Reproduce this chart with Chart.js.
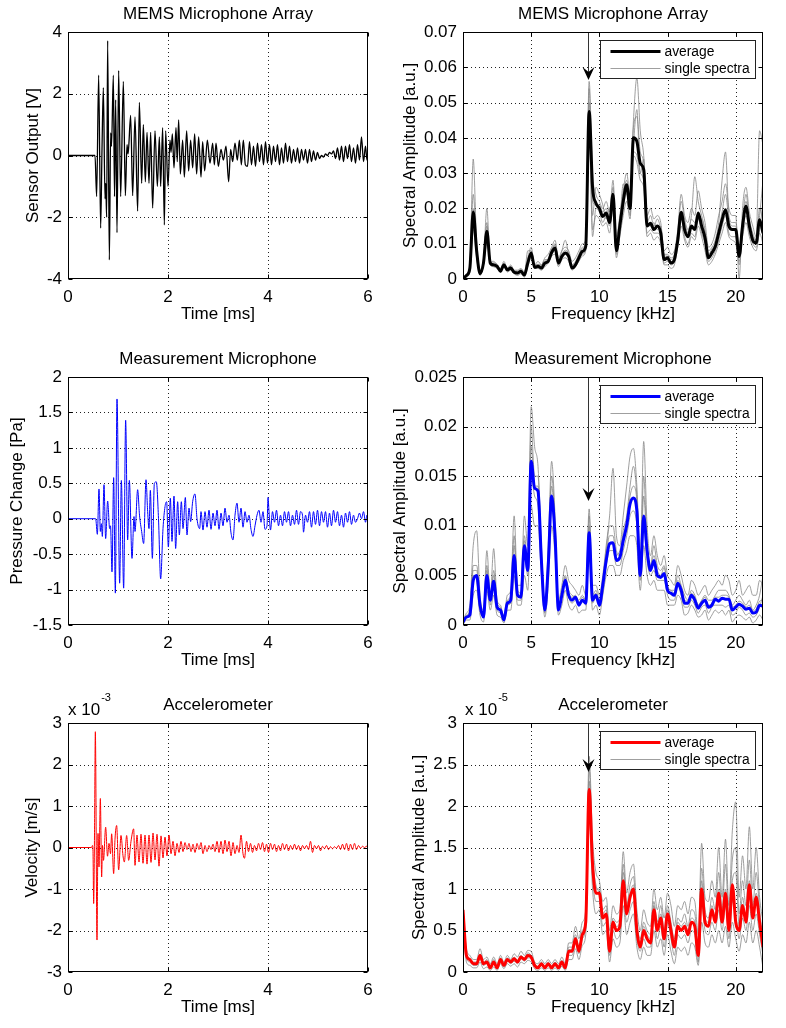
<!DOCTYPE html>
<html>
<head>
<meta charset="utf-8">
<script src="https://cdn.jsdelivr.net/npm/chart.js@4.4.1/dist/chart.umd.min.js"></script>
<style>
  body { margin: 0; background: #fff; }
  #fig { position: relative; width: 786px; height: 1028px; overflow: hidden; }
  #fig canvas { position: absolute; }
</style>
</head>
<body>
<div id="fig">
  <canvas id="tl" width="393" height="343" style="left:0;top:0"></canvas>
  <canvas id="tr" width="393" height="343" style="left:393px;top:0"></canvas>
  <canvas id="ml" width="393" height="343" style="left:0;top:343px"></canvas>
  <canvas id="mr" width="393" height="343" style="left:393px;top:343px"></canvas>
  <canvas id="bl" width="393" height="342" style="left:0;top:686px"></canvas>
  <canvas id="br" width="393" height="342" style="left:393px;top:686px"></canvas>
</div>
<script>
const FONT = '"Liberation Sans", Arial, Helvetica, sans-serif';
const GRAY = 'rgba(135,135,135,0.8)';

// tick positions
const timeTicks = [0, 2, 4, 6];
const freqTicks = [0, 5, 10, 15, 20];
const memsVoltTicks = [-4, -2, 0, 2, 4];
const pressureTicks = [-1.5, -1, -0.5, 0, 0.5, 1, 1.5, 2];
const velocityTicks = [-3, -2, -1, 0, 1, 2, 3];       // x 1e-3 m/s
const memsSpecTicks = [0, 10, 20, 30, 40, 50, 60, 70]; // x 1e-3
const measSpecTicks = [0, 5, 10, 15, 20, 25];         // x 1e-3
const accSpecTicks = [0, 0.5, 1, 1.5, 2, 2.5, 3];     // x 1e-5

// time signals: [time ms, value]
const memsSignal = [
  [0,0],[0.54,0],[0.573,-1.33],[0.613,2.6],[0.653,-2.35],[0.68,0.2],[0.707,2.2],[0.74,-1.4],[0.755,-0.9],[0.773,-2.0],
  [0.793,3.72],[0.827,-3.38],[0.853,0.73],[0.87,0.3],[0.907,2.6],[0.93,-1.33],[0.953,1.8],[0.98,-2.5],[1.013,2.75],[1.053,-1.33],
  [1.107,2.4],[1.147,-1.3],[1.18,0.35],[1.2,0.05],[1.215,0.3],[1.253,1.3],[1.293,-1.3],[1.34,1.25],[1.393,-1.8],[1.427,1.72],
  [1.473,-0.9],[1.507,1.0],[1.547,-0.85],[1.58,0.75],[1.62,-0.9],[1.653,0.75],[1.693,-1.7],[1.74,0.8],[1.787,-1.0],[1.827,0.6],
  [1.853,-1.0],[1.893,0.9],[1.927,-2.25],[1.953,0.8],[2.0,-1.0],[2.04,0.5],[2.06,0.1],[2.087,0.7],[2.12,-0.4],[2.16,0.9],
  [2.185,-0.2],[2.213,1.15],[2.247,-0.6],[2.293,0.5],[2.327,-0.7],[2.373,0.8],[2.413,-0.5],[2.453,0.5],[2.493,-0.4],[2.533,0.7],
  [2.573,-0.6],[2.613,0.6],[2.66,-0.7],[2.693,0.45],[2.733,-0.5],[2.787,0.5],[2.84,-0.25],[2.893,0.4],[2.927,-0.3],[2.96,0.4],
  [3.007,-0.35],[3.06,0.2],[3.107,-0.15],[3.16,0.3],[3.213,-0.85],[3.253,0.2],[3.293,-0.2],[3.34,0.4],[3.387,-0.15],[3.427,0.5],
  [3.467,-0.3],[3.507,0.5],[3.547,-0.3],[3.59,-0.35],[3.63,0.45],[3.67,-0.3],[3.71,0.3],[3.75,-0.35],[3.79,0.4],[3.83,-0.2],
  [3.87,0.35],[3.91,-0.3],[3.95,0.45],[3.99,-0.25],[4.03,0.35],[4.07,-0.3],[4.11,0.3],[4.15,-0.2],[4.19,0.35],[4.23,-0.3],
  [4.27,0.25],[4.31,-0.25],[4.35,0.4],[4.39,-0.2],[4.43,0.3],[4.47,-0.25],[4.51,0.2],[4.55,-0.2],[4.59,0.25],[4.63,-0.25],
  [4.67,0.2],[4.71,-0.15],[4.75,0.2],[4.79,-0.25],[4.83,0.2],[4.87,-0.2],[4.91,0.15],[4.95,-0.15],[4.99,0.1],[5.03,-0.1],
  [5.07,0.0],[5.11,-0.05],[5.15,0.05],[5.19,0.0],[5.23,0.1],[5.27,0.05],[5.31,0.15],[5.35,-0.1],[5.39,0.25],[5.43,-0.15],
  [5.47,0.3],[5.51,-0.2],[5.55,0.3],[5.59,-0.1],[5.63,0.35],[5.67,-0.2],[5.71,0.25],[5.75,-0.25],[5.79,0.35],[5.83,-0.15],
  [5.87,0.6],[5.91,-0.2],[5.95,0.3],[5.98,-0.15],[6.0,0.05]
];

const measSignal = [
  [0,0],[0.553,0],[0.587,-0.22],[0.62,0.42],[0.647,-0.18],[0.667,-0.07],[0.687,-0.25],[0.72,0.48],[0.753,-0.28],[0.793,0.25],
  [0.833,-0.14],[0.85,-0.1],[0.88,-0.75],[0.913,0.58],[0.947,-1.05],[0.98,1.69],[1.033,-0.91],[1.067,0.54],[1.113,-0.98],[1.153,1.39],
  [1.193,-0.3],[1.227,0.54],[1.28,-0.56],[1.32,0.03],[1.34,-0.18],[1.393,0.41],[1.43,0.05],[1.473,-0.18],[1.513,-0.35],[1.56,0.55],
  [1.593,0.1],[1.62,-0.14],[1.647,0.4],[1.687,-0.56],[1.727,0.5],[1.767,0.52],[1.81,0.0],[1.853,-0.85],[1.9,-0.14],[1.94,0.17],
  [1.973,0.24],[2.007,-0.4],[2.047,0.29],[2.08,-0.32],[2.12,0.32],[2.153,-0.42],[2.193,0.24],[2.227,-0.23],[2.267,0.24],[2.3,-0.14],
  [2.347,0.3],[2.38,-0.23],[2.42,0.15],[2.453,-0.04],[2.493,0.24],[2.54,0.35],[2.58,0.0],[2.633,-0.14],[2.66,0.1],[2.7,-0.16],
  [2.74,0.1],[2.78,-0.12],[2.82,0.12],[2.86,-0.15],[2.9,0.08],[2.94,-0.1],[2.98,0.12],[3.02,-0.15],[3.06,0.08],[3.1,-0.1],
  [3.14,0.15],[3.18,-0.05],[3.22,0.05],[3.26,-0.2],[3.3,-0.3],[3.34,0.05],[3.38,0.22],[3.42,-0.05],[3.46,0.15],[3.5,-0.12],
  [3.54,0.1],[3.58,-0.05],[3.62,0.05],[3.66,-0.15],[3.7,-0.25],[3.74,-0.1],[3.78,0.05],[3.82,0.12],[3.86,-0.05],[3.9,0.1],
  [3.94,-0.15],[3.98,-0.1],[4.0,0.3],[4.02,0.1],[4.05,-0.16],[4.09,0.1],[4.13,-0.05],[4.17,0.12],[4.21,-0.1],[4.25,0.05],
  [4.29,-0.1],[4.33,0.1],[4.37,-0.05],[4.41,0.1],[4.45,-0.1],[4.49,0.05],[4.53,-0.08],[4.57,0.12],[4.61,-0.08],[4.65,0.1],
  [4.69,0.05],[4.71,-0.19],[4.75,0.05],[4.79,-0.05],[4.83,0.1],[4.87,-0.12],[4.91,0.1],[4.95,-0.08],[4.99,0.12],[5.03,-0.1],
  [5.07,0.1],[5.11,-0.05],[5.15,0.1],[5.19,-0.12],[5.23,0.08],[5.27,-0.1],[5.31,0.12],[5.35,-0.05],[5.39,0.1],[5.43,-0.1],
  [5.47,0.05],[5.51,-0.12],[5.55,0.08],[5.59,-0.05],[5.63,0.1],[5.67,-0.08],[5.71,0.05],[5.75,-0.05],[5.79,0.0],[5.83,0.08],
  [5.87,0.0],[5.91,0.1],[5.95,-0.05],[5.98,0.05],[6.0,-0.12]
];

// velocity in units of 1e-3 m/s
const accelSignal = [
  [0,0],[0.47,0],[0.49,0.05],[0.5,-0.1],[0.513,-1.35],[0.53,0.3],[0.547,2.79],[0.58,-2.23],[0.6,0.34],[0.62,-0.47],
  [0.647,1.18],[0.673,-0.71],[0.69,0.05],[0.71,-0.31],[0.753,0.49],[0.79,-0.21],[0.82,0.1],[0.85,-0.15],[0.873,0.33],[0.913,-0.63],
  [0.94,0.2],[0.973,0.53],[1.013,-0.54],[1.06,0.29],[1.1,-0.2],[1.127,-0.35],[1.173,0.29],[1.213,-0.31],[1.26,0.15],[1.313,0.45],
  [1.34,-0.43],[1.38,0.3],[1.42,-0.35],[1.46,0.32],[1.5,-0.38],[1.54,0.3],[1.58,-0.4],[1.62,0.3],[1.66,-0.36],[1.7,0.35],
  [1.74,-0.3],[1.78,0.32],[1.82,-0.45],[1.86,0.28],[1.9,-0.25],[1.94,0.25],[1.98,-0.2],[2.02,0.3],[2.06,-0.15],[2.1,0.15],
  [2.14,-0.2],[2.18,0.1],[2.22,-0.12],[2.26,0.15],[2.3,-0.1],[2.34,0.12],[2.38,-0.05],[2.42,0.1],[2.46,-0.1],[2.5,0.08],
  [2.54,-0.12],[2.58,0.1],[2.62,-0.05],[2.66,0.12],[2.7,-0.15],[2.74,0.05],[2.78,-0.1],[2.82,0.05],[2.86,-0.05],[2.9,0.08],
  [2.94,-0.1],[2.98,0.15],[3.02,-0.12],[3.06,0.15],[3.1,-0.15],[3.14,0.18],[3.18,-0.1],[3.22,0.15],[3.26,-0.2],[3.3,0.12],
  [3.34,-0.15],[3.38,0.05],[3.42,-0.12],[3.46,0.3],[3.5,-0.15],[3.53,-0.26],[3.57,0.15],[3.61,-0.1],[3.65,0.1],[3.69,-0.12],
  [3.73,0.05],[3.77,-0.08],[3.81,0.1],[3.85,-0.05],[3.89,0.12],[3.93,-0.1],[3.97,0.08],[4.01,-0.12],[4.05,0.1],[4.09,-0.05],
  [4.13,0.08],[4.17,-0.1],[4.21,0.05],[4.25,-0.08],[4.29,0.1],[4.33,-0.05],[4.37,0.08],[4.41,-0.08],[4.45,0.05],[4.49,-0.05],
  [4.53,0.08],[4.57,-0.05],[4.61,0.05],[4.65,-0.08],[4.69,0.05],[4.73,-0.03],[4.77,0.05],[4.81,-0.05],[4.85,0.15],[4.89,-0.12],
  [4.93,0.05],[4.97,-0.03],[5.01,0.05],[5.05,-0.08],[5.09,0.03],[5.13,-0.03],[5.17,0.05],[5.21,-0.05],[5.25,0.02],[5.29,-0.03],
  [5.33,0.02],[5.37,-0.02],[5.41,0.05],[5.45,-0.05],[5.49,0.08],[5.53,-0.05],[5.57,0.1],[5.61,-0.08],[5.65,0.08],[5.69,-0.05],
  [5.73,0.1],[5.77,-0.05],[5.81,0.05],[5.85,-0.02],[5.89,0.03],[5.93,0.0],[5.97,0.03],[6.0,-0.02]
];

// spectra sampled every 0.25 kHz from 0 to 22 kHz (89 bins)
const FREQ_STEP = 0.25;

// MEMS array spectra, units of 1e-3
const memsAvg = [
  0,1,3,19, 8,1.5,4.5,13.5, 4.5,4,3.6,2.2, 4,2.6,3.1,1.9, 1.7,2.2,1.1,4.5,
  7.4,3.3,3.6,3.1, 4.5,5,7.5,8.8, 4.5,6.4,7.4,6.4, 3.1,4,6,7.8, 9.2,47.5,26,21.5,
  20,17.7,18.7,16, 24,8,15,22, 26.7,20,40,39, 32.8,31,15,15.8, 14,15,13,5.5,
  6,4.5,5.5,11, 18.9,14,12,15, 14,18.7,15,11.6, 6,7.4,9.2,13, 16.8,19.6,15,14,
  14,6.4,15,20.6, 15,11,10.2,16.8, 13
];
const memsSingle1 = [
  0,1.5,4,34, 10,2,5,20, 5,5,4,3, 5,3,4,2.5, 2.5,3,2,6,
  9,4,5,4, 6,7,9,11, 6,8,9,8, 5,6,8,10, 11,56,30,24,
  22,20,22,19, 28,12,18,25, 30,24,45,57, 42,35,18,20, 17,18,16,8,
  9,7,8,14, 24,18,16,20, 18,25,20,16, 9,10,13,18, 22,27,20,18,
  18,0,20,26, 19,15,12,42, 38
];
const memsSingle2 = [
  0,0.5,2,14, 6,1,4,10, 4,3.5,3,2, 3.5,2,2.5,1.5, 1,1.5,0.5,3.5,
  6,3,3,2.5, 3.5,4.5,6.5,7, 3.5,5.5,6,5, 2.5,3.5,5,6.5, 8,42,14,18,
  17,15,16,13, 20,6,12,18, 22,17,35,33, 28,26,12,13, 11,12,10,4,
  4,3,4,9, 15,11,9,12, 11,15,12,8, 4,5,7,10, 13,16,12,11,
  10,5,12,16, 12,9,8,13, 10
];
const memsSingle3 = [
  0,1,3.5,24, 9,2,5,16, 4,4.5,4,2.5, 4.5,3,3.5,2, 2,2.5,1.5,8,
  8,4,4,4, 5.5,5.5,8,10, 5,8,11,7, 4,5,7,9, 10,54,22,21,
  21,19,20,17, 26,10,17,24, 28,22,43,46, 36,33,16,18, 15,17,14,7,
  7,6,7,13, 22,17,14,18, 29,22,18,14, 8,9,11,16, 28,36,18,16,
  16,9,17,24, 17,13,11,20, 16
];
const memsSingle4 = [
  0,0.8,2.5,16, 7,1.5,4,12, 4,3.5,3.5,2, 4,2.2,2.8,1.6, 1.4,2,1,4,
  7,3,3.2,2.8, 4,4.8,7,8, 4,6,7,6, 3,3.8,5.5,7, 8.5,45,12,20,
  19,16,18,15, 22,7,14,20, 25,18,36,35, 30,28,13,14, 13,13,12,4.5,
  5,4,5,10, 17,12,10,13, 12,17,13,10, 5,6,8,11, 15,18,13,12,
  12,4,13,18, 13,10,9,14, 22
];
const memsSingle5 = [
  0,1.2,3.5,20, 9,1.8,5.5,15, 5,4.5,4.2,2.8, 4.5,3.2,3.6,2.2, 2.2,2.8,1.4,5,
  7.8,3.8,4.2,3.6, 5,5.8,8.5,9.5, 5.2,7,8.2,7.2, 3.8,4.6,6.8,8.5, 10,50,18,26,
  24,21,17,20, 21,10,16,27, 24,23,38,48, 30,34,17,15, 16,14,15,6.5,
  6.5,5.5,6.5,12, 17,16,13,17, 16,17,17,13, 7,8.5,10,14, 19,24,17,15,
  15,8,16,22, 16,12,11,18, 28
];

// measurement microphone spectra, units of 1e-3
const measAvg = [
  0.3,0.8,1,4.5, 5,2,0.8,5, 2.5,4.4,1.8,1.5, 0.5,2.2,2.5,7, 3,2.8,8,5.5,
  16.5,13.8,13.5,6.5, 1.5,6,13,9, 1.5,3,4.5,3, 2.5,2.8,2,2.5, 2.2,9.3,2.5,3,
  2,4,6.5,8.2, 8.3,6.5,6.8,8.5, 10,12.2,12.8,11.5, 5,11,7.5,5.5, 6.5,5,4.8,5.2,
  3.5,3.2,3,4.2, 3.5,2.2,2.2,3, 2.5,1.7,2.2,2.5, 1.8,2,2.6,2.4, 2.7,2.6,2.6,1.5,
  1.8,2.1,1.9,1.6, 1.7,1.2,1.3,2, 1.9
];
const measSingle1 = [
  0.5,1.2,2,8, 9.5,3,1.5,7.5, 3,7.7,2.5,2, 0.8,3,3.5,11, 4,4,11,8,
  22,18,16,8, 2,8,16.5,11, 2.5,4,6,4.5, 4,3.5,3,4, 3,11.7,4,4,
  3,5,8,11, 15.8,9,8,11, 14,17,17.8,14, 7,18.5,10,7, 9,7,6,7,
  5,4.5,4,6, 5,3.5,3,4.5, 4,3,3.5,4, 3,3.5,4,4.5, 4,5,4.5,3,
  3.5,4.5,3,3.5, 4,3,3,4.5, 4
];
const measSingle2 = [
  0,0.5,0.5,3, 3.5,1,0.3,3.5, 1.5,3,1,0.8, 0.2,1.5,1.5,5, 2,2,5,3.5,
  12,10,10,5, 0.8,4,10,7, 1,2,3.5,2, 1.5,2,1.2,1.5, 1.5,7.5,1.5,2,
  1,3,5,6, 6,5,5,6.5, 7.5,9,9,8, 3.5,8,5,4, 4.5,3.5,3.5,3.5,
  2,2,2,3, 2.5,1,1.2,2, 1.5,0.8,1,1.5, 0.5,1,1.5,1.2, 1.5,1,1.5,0.3,
  0.8,1,0.8,0.5, 0.8,0.2,0.5,1, 0.5
];
const measSingle3 = [
  0.3,1,1.5,6, 6,2.5,1,6, 2,5.5,2.2,1.8, 0.6,2.5,3,9, 3.5,3.2,9,6.5,
  20,15,15,7, 1.5,7,15,10, 2,3.5,5,3.5, 3,2.8,2.5,3, 2.5,11,3,3.5,
  2.5,4.5,7.5,10, 10,7.5,7,9.5, 11,14,16,13, 6,15,8,6, 8,6,5.5,6,
  4,3.5,3.5,5, 4,3,2.5,3.5, 3,2,2.5,3, 2.5,2.5,3,3.5, 3.5,3.5,3,2,
  2.5,3,2.5,2, 2.5,1.5,2,3, 5
];
const measSingle4 = [
  0.2,0.8,1.2,5, 4.5,1.5,0.8,4.5, 2.5,4,1.5,1.2, 0.4,2,2.2,6.5, 2.5,2.5,7,5,
  15,13,12,6, 1.2,5.5,12,8.5, 1.5,3,4.5,2.8, 2.2,2.5,2,2.5, 2,8.5,2.2,2.8,
  1.8,3.8,6,7.5, 7.5,6,6,7.5, 9,11,11.5,10, 4.5,10,6.5,5, 5.5,4.5,4.5,4.5,
  3,2.5,2.5,4, 3,1.8,1.8,2.5, 2,1.2,1.8,2, 1.2,1.8,2,2, 2,1.8,2,1,
  1.2,1.8,1.5,1, 1.2,0.8,1,1.8, 3
];
const measSingle5 = [
  0.4,0.9,1.3,5.5, 5.5,2.2,1,5.5, 2.8,5,2,1.6, 0.5,2.4,2.8,8, 3.2,3,8.5,6,
  18,14,14,7, 1.6,6.5,14,9.5, 1.8,3.2,4.8,3.2, 2.8,3,2.2,2.8, 2.4,10,2.8,3.2,
  2.2,4.2,7,9, 9,7,7.5,9, 10.5,13,14,12.5, 5.5,13,8,6, 7,5.5,5,5.8,
  3.8,3.5,3.2,4.5, 3.8,2.5,2.4,3.2, 2.8,2,2.4,2.8, 2,2.2,2.8,2.8, 3,3,2.8,1.8,
  2,2.4,2.2,1.8, 2,1.4,1.6,2.4, 2.5
];

// accelerometer spectra, units of 1e-5
const accAvg = [
  0.75,0.2,0.15,0.1, 0.1,0.2,0.1,0.12, 0.05,0.12,0.05,0.15, 0.08,0.15,0.12,0.16, 0.12,0.18,0.15,0.2,
  0.18,0.08,0.05,0.1, 0.05,0.1,0.05,0.1, 0.05,0.12,0.05,0.25, 0.25,0.4,0.25,0.45, 0.6,2.2,1.3,0.95,
  0.95,0.65,0.7,0.25, 0.6,0.5,0.55,1.1, 0.7,0.9,1.0,0.5, 0.3,0.5,0.4,0.35, 0.75,0.5,0.65,0.4,
  0.7,0.5,0.3,0.55, 0.5,0.55,0.45,0.6, 0.55,0.2,1.0,0.6, 0.55,0.75,0.6,0.95, 0.6,0.95,0.5,1.05,
  0.6,0.5,0.8,0.6, 1.05,0.65,0.9,0.6, 0.3
];
const accSingle1 = [
  0.8,0.28,0.2,0.15, 0.15,0.28,0.15,0.18, 0.1,0.18,0.1,0.2, 0.12,0.2,0.15,0.22, 0.18,0.25,0.2,0.26,
  0.25,0.12,0.1,0.15, 0.1,0.15,0.1,0.15, 0.1,0.18,0.1,0.35, 0.35,0.55,0.4,0.6, 0.75,2.6,1.6,1.2,
  1.1,0.85,0.9,0.5, 0.8,0.7,0.75,1.45, 0.95,1.2,1.3,0.75, 0.5,0.75,0.6,0.55, 1.0,0.75,0.9,0.65,
  0.95,0.8,0.55,0.8, 0.75,0.85,0.7,0.9, 0.85,0.45,1.55,0.9, 0.85,1.1,0.9,1.5, 0.9,1.6,0.8,1.7,
  2.05,0.9,1.4,1.0, 1.75,1.0,1.5,0.9, 0.6
];
const accSingle2 = [
  0.7,0.12,0.08,0.05, 0.05,0.12,0.04,0.06, 0.02,0.06,0.02,0.1, 0.04,0.1,0.07,0.1, 0.06,0.12,0.1,0.14,
  0.12,0.04,0.02,0.05, 0.02,0.05,0.02,0.05, 0.02,0.07,0.02,0.15, 0.15,0.28,0.15,0.32, 0.45,1.9,1.0,0.7,
  0.75,0.45,0.5,0.12, 0.4,0.3,0.35,0.8, 0.45,0.6,0.7,0.3, 0.15,0.3,0.2,0.2, 0.5,0.3,0.4,0.2,
  0.45,0.25,0.1,0.3, 0.25,0.3,0.2,0.35, 0.3,0.08,0.6,0.35, 0.3,0.45,0.35,0.5, 0.35,0.55,0.3,0.6,
  0.4,0.25,0.45,0.35, 0.6,0.35,0.5,0.3, 0.05
];
const accSingle3 = [
  0.78,0.22,0.15,0.12, 0.12,0.22,0.12,0.15, 0.08,0.15,0.07,0.17, 0.1,0.17,0.13,0.18, 0.14,0.2,0.17,0.23,
  0.2,0.1,0.07,0.12, 0.07,0.12,0.07,0.12, 0.07,0.14,0.07,0.3, 0.3,0.45,0.3,0.5, 0.65,2.45,1.4,1.05,
  0.95,0.75,0.8,0.35, 0.65,0.6,0.65,1.3, 0.8,1.05,1.15,0.6, 0.4,0.6,0.5,0.45, 0.85,0.6,0.8,0.5,
  0.8,0.6,0.4,0.65, 0.6,0.7,0.55,0.75, 0.7,0.3,1.25,0.75, 0.65,0.9,0.75,1.2, 0.75,1.3,0.65,1.35,
  1.5,0.7,1.1,0.8, 1.35,0.8,1.2,0.75, 0.4
];
const accSingle4 = [
  0.72,0.16,0.12,0.08, 0.08,0.16,0.08,0.1, 0.04,0.1,0.04,0.13, 0.06,0.13,0.1,0.13, 0.1,0.16,0.13,0.17,
  0.16,0.07,0.04,0.08, 0.04,0.08,0.04,0.08, 0.04,0.1,0.04,0.2, 0.2,0.35,0.22,0.4, 0.55,2.0,1.15,0.85,
  0.85,0.55,0.6,0.2, 0.5,0.4,0.45,0.95, 0.6,0.75,0.85,0.4, 0.25,0.4,0.3,0.3, 0.65,0.4,0.55,0.3,
  0.6,0.4,0.2,0.45, 0.4,0.45,0.35,0.5, 0.45,0.12,0.85,0.5, 0.45,0.6,0.5,0.75, 0.5,0.8,0.4,0.85,
  0.7,0.4,0.65,0.5, 0.8,0.5,0.7,0.45, 0.2
];
const accSingle5 = [
  0.76,0.2,0.16,0.11, 0.1,0.21,0.11,0.13, 0.06,0.13,0.06,0.16, 0.09,0.16,0.12,0.17, 0.13,0.19,0.16,0.21,
  0.19,0.09,0.06,0.11, 0.06,0.11,0.06,0.11, 0.06,0.13,0.06,0.27, 0.27,0.42,0.27,0.48, 0.62,2.3,1.35,1.0,
  1.0,0.7,0.75,0.3, 0.62,0.55,0.6,1.2, 0.75,0.95,1.05,0.55, 0.35,0.55,0.45,0.4, 0.8,0.55,0.7,0.45,
  0.75,0.55,0.35,0.6, 0.55,0.6,0.5,0.65, 0.6,0.25,1.1,0.65, 0.6,0.8,0.65,1.0, 0.65,1.0,0.55,1.1,
  1.2,0.55,0.9,0.65, 1.1,0.7,0.95,0.65, 0.35
];

// arrow marking the resonance: [frequency kHz, tip value]
const memsArrow = [9.2, 56.4];
const measArrow = [9.2, 12.5];
const accArrow = [9.2, 2.41];

function timeSet(pairs, color, width) {
  return [{ data: pairs.map(([t, v]) => ({ x: t, y: v })), borderColor: color, borderWidth: width }];
}

function spectrumSets(avg, singles, color) {
  const pts = arr => arr.map((v, i) => ({ x: i * FREQ_STEP, y: v }));
  // first dataset is drawn on top
  return [{ data: pts(avg), borderColor: color, borderWidth: 3 }]
    .concat(singles.map(s => ({ data: pts(s), borderColor: GRAY, borderWidth: 1 })));
}

const plain = v => String(+v.toFixed(4));
const milli = v => String(+(v / 1000).toFixed(4));

function decor(p) {
  return {
    id: 'decor',
    beforeDatasetsDraw(chart) {
      const { ctx, chartArea: a, scales: { x, y } } = chart;
      ctx.save();
      ctx.strokeStyle = '#222';
      ctx.lineWidth = 1;
      ctx.setLineDash([1, 3]);
      ctx.beginPath();
      for (const t of x.ticks) {
        const px = Math.round(x.getPixelForValue(t.value)) + 0.5;
        if (px - a.left < 2 || a.right - px < 2) continue;
        ctx.moveTo(px, a.top); ctx.lineTo(px, a.bottom);
      }
      for (const t of y.ticks) {
        const py = Math.round(y.getPixelForValue(t.value)) + 0.5;
        if (py - a.top < 2 || a.bottom - py < 2) continue;
        ctx.moveTo(a.left, py); ctx.lineTo(a.right, py);
      }
      ctx.stroke();
      ctx.restore();
    },
    afterDatasetsDraw(chart) {
      const { ctx, chartArea: a, scales: { x, y } } = chart;
      ctx.save();

      // resonance arrow
      if (p.arrow) {
        const ax = Math.round(x.getPixelForValue(p.arrow[0])) + 0.5;
        const tip = y.getPixelForValue(p.arrow[1]);
        ctx.strokeStyle = '#333';
        ctx.lineWidth = 1;
        ctx.beginPath();
        ctx.moveTo(ax, a.top);
        ctx.lineTo(ax, tip - 8);
        ctx.stroke();
        ctx.fillStyle = '#000';
        ctx.beginPath();
        ctx.moveTo(ax, tip);
        ctx.lineTo(ax - 6, tip - 13);
        ctx.lineTo(ax, tip - 8);
        ctx.lineTo(ax + 6, tip - 13);
        ctx.closePath();
        ctx.fill();
      }

      // axes box with inward ticks
      const L = Math.round(a.left) + 0.5, R = Math.round(a.right) - 0.5;
      const T = Math.round(a.top) + 0.5, B = Math.round(a.bottom) - 0.5;
      ctx.strokeStyle = '#000';
      ctx.lineWidth = 1;
      ctx.strokeRect(L, T, R - L, B - T);
      ctx.beginPath();
      for (const t of x.ticks) {
        const px = Math.round(x.getPixelForValue(t.value)) + 0.5;
        ctx.moveTo(px, B); ctx.lineTo(px, B - 4);
        ctx.moveTo(px, T); ctx.lineTo(px, T + 4);
      }
      for (const t of y.ticks) {
        const py = Math.round(y.getPixelForValue(t.value)) + 0.5;
        ctx.moveTo(L, py); ctx.lineTo(L + 4, py);
        ctx.moveTo(R, py); ctx.lineTo(R - 4, py);
      }
      ctx.stroke();

      // legend
      if (p.legendColor) {
        const bw = 155, bh = 38;
        const bx = Math.round(a.right - 8 - bw) + 0.5, by = Math.round(a.top + 8) + 0.5;
        ctx.fillStyle = '#fff';
        ctx.fillRect(bx, by, bw, bh);
        ctx.strokeStyle = '#222';
        ctx.strokeRect(bx, by, bw, bh);
        const rows = [['average', p.legendColor, 3], ['single spectra', GRAY, 1]];
        ctx.font = '13.8px ' + FONT;
        ctx.textAlign = 'left';
        ctx.textBaseline = 'middle';
        rows.forEach(([label, color, w], i) => {
          const ry = by + 11 + i * 17;
          ctx.strokeStyle = color;
          ctx.lineWidth = w;
          ctx.beginPath();
          ctx.moveTo(bx + 10, ry); ctx.lineTo(bx + 60, ry);
          ctx.stroke();
          ctx.fillStyle = '#000';
          ctx.fillText(label, bx + 64, ry + 1);
        });
      }

      // texts
      ctx.fillStyle = '#000';
      ctx.font = '17px ' + FONT;
      ctx.textAlign = 'center';
      ctx.textBaseline = 'middle';
      const cx = (a.left + a.right) / 2, cy = (a.top + a.bottom) / 2;
      ctx.fillText(p.title, cx, a.top - 18);
      ctx.fillText(p.xlabel, cx, a.bottom + 35);
      ctx.save();
      ctx.translate(p.ylabelX, cy);
      ctx.rotate(-Math.PI / 2);
      ctx.fillText(p.ylabel, 0, 0);
      ctx.restore();

      if (p.exponent) {
        ctx.textAlign = 'left';
        ctx.textBaseline = 'alphabetic';
        const ex = a.left + p.expDx;
        ctx.fillText('x 10', ex, a.top - 8);
        const w = ctx.measureText('x 10').width;
        ctx.font = '11px ' + FONT;
        ctx.fillText(p.exponent, ex + w + 1, a.top - 22);
      }
      ctx.restore();
    }
  };
}

function panel(p) {
  const tickFont = { family: FONT, size: 17 };
  return new Chart(document.getElementById(p.id), {
    type: 'line',
    data: { datasets: p.datasets },
    options: {
      responsive: false,
      animation: false,
      devicePixelRatio: 1,
      layout: { padding: { top: p.area.top, right: p.area.right, left: 0, bottom: 0 } },
      elements: { point: { radius: 0 }, line: { cubicInterpolationMode: 'monotone' } },
      plugins: { legend: { display: false }, tooltip: { enabled: false } },
      scales: {
        x: {
          type: 'linear', min: p.xRange[0], max: p.xRange[1],
          afterFit: s => { s.height = p.area.xh; },
          afterBuildTicks: s => { s.ticks = p.xTicks.map(v => ({ value: v })); },
          grid: { display: false, drawTicks: false }, border: { display: false },
          ticks: { font: tickFont, color: '#000', padding: 8, maxRotation: 0, autoSkip: false, callback: plain }
        },
        y: {
          type: 'linear', min: p.yRange[0], max: p.yRange[1],
          afterFit: s => { s.width = p.area.left; },
          afterBuildTicks: s => { s.ticks = p.yTicks.map(v => ({ value: v })); },
          grid: { display: false, drawTicks: false }, border: { display: false },
          ticks: { font: tickFont, color: '#000', padding: 6, autoSkip: false, callback: p.yFormat || plain }
        }
      }
    },
    plugins: [decor(p)]
  });
}

const leftArea = top => ({ left: 68, right: 25, top: top });
const rightArea = top => ({ left: 70, right: 23, top: top });

panel({
  id: 'tl', area: { ...leftArea(32), xh: 64 },
  title: 'MEMS Microphone Array', xlabel: 'Time [ms]', ylabel: 'Sensor Output [V]', ylabelX: 33,
  xRange: [0, 6], xTicks: timeTicks, yRange: [-4, 4], yTicks: memsVoltTicks,
  datasets: timeSet(memsSignal, '#000', 1.3)
});
panel({
  id: 'tr', area: { ...rightArea(32), xh: 64 },
  title: 'MEMS Microphone Array', xlabel: 'Frequency [kHz]', ylabel: 'Spectral Amplitude [a.u.]', ylabelX: 17,
  xRange: [0, 22], xTicks: freqTicks, yRange: [0, 70], yTicks: memsSpecTicks, yFormat: milli,
  arrow: memsArrow, legendColor: '#000',
  datasets: spectrumSets(memsAvg, [memsSingle1, memsSingle2, memsSingle3, memsSingle4, memsSingle5], '#000')
});
panel({
  id: 'ml', area: { ...leftArea(34), xh: 61 },
  title: 'Measurement Microphone', xlabel: 'Time [ms]', ylabel: 'Pressure Change [Pa]', ylabelX: 17.5,
  xRange: [0, 6], xTicks: timeTicks, yRange: [-1.5, 2], yTicks: pressureTicks,
  datasets: timeSet(measSignal, '#0000ff', 1)
});
panel({
  id: 'mr', area: { ...rightArea(34), xh: 61 },
  title: 'Measurement Microphone', xlabel: 'Frequency [kHz]', ylabel: 'Spectral Amplitude [a.u.]', ylabelX: 7.5,
  xRange: [0, 22], xTicks: freqTicks, yRange: [0, 25], yTicks: measSpecTicks, yFormat: milli,
  arrow: measArrow, legendColor: '#0000ff',
  datasets: spectrumSets(measAvg, [measSingle1, measSingle2, measSingle3, measSingle4, measSingle5], '#0000ff')
});
panel({
  id: 'bl', area: { ...leftArea(37), xh: 56 },
  title: 'Accelerometer', xlabel: 'Time [ms]', ylabel: 'Velocity [m/s]', ylabelX: 32.5,
  xRange: [0, 6], xTicks: timeTicks, yRange: [-3, 3], yTicks: velocityTicks,
  exponent: '-3', expDx: 0,
  datasets: timeSet(accelSignal, '#ff0000', 1)
});
panel({
  id: 'br', area: { ...rightArea(37), xh: 56 },
  title: 'Accelerometer', xlabel: 'Frequency [kHz]', ylabel: 'Spectral Amplitude [a.u.]', ylabelX: 26,
  xRange: [0, 22], xTicks: freqTicks, yRange: [0, 3], yTicks: accSpecTicks,
  exponent: '-5', expDx: 2, arrow: accArrow, legendColor: '#ff0000',
  datasets: spectrumSets(accAvg, [accSingle1, accSingle2, accSingle3, accSingle4, accSingle5], '#ff0000')
});
</script>
</body>
</html>
